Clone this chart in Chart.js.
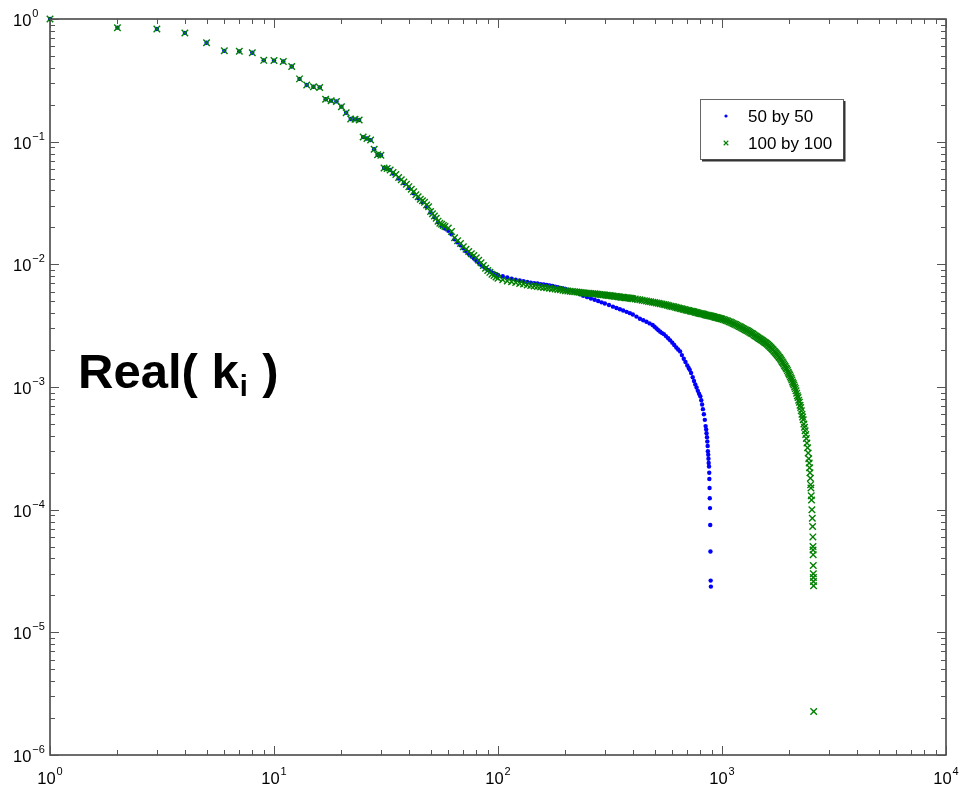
<!DOCTYPE html>
<html>
<head>
<meta charset="utf-8">
<script src="https://cdn.jsdelivr.net/npm/chart.js@4/dist/chart.umd.min.js"></script>
<style>
html,body{margin:0;padding:0;background:#fff;}
#c{display:block;}
</style>
</head>
<body>
<canvas id="c" width="961" height="789"></canvas>
<script>
// ---------- data ----------
const seriesNames = ['50 by 50', '100 by 100'];

// tick labels: base "10" with exponent
const xTickValues = [1, 10, 100, 1000, 10000];
const xTickExps = ['0', '1', '2', '3', '4'];
const yTickValues = [1, 0.1, 0.01, 0.001, 0.0001, 0.00001, 0.000001];
const yTickExps = ['0', '\u22121', '\u22122', '\u22123', '\u22124', '\u22125', '\u22126'];
const annotationText = ['Real( k', 'i', ' )'];

// 50 by 50 (blue dots)
const blueX = [1,2,3,4,5,6,7,8,9,10,11,12,13,14,15,16,17,18,19,20,21,22,23,24,25,26,27,28,29,30,31,32,33,
  34,36,38,40,42,44,46,48,50,52,54,56,58,60,62,64,66,68,70,72,74,76,78,80,82,84,86,88,90,92,94,96,98,
  100,105,110,115,120,125,130,135,140,145,150,155,160,165,170,175,180,185,190,195,200,208,216,224,232,240,250,260,270,280,290,300,313,326,338,350,362,375,388,400,415,430,445,460,475,490,500,510,520,530,540,550,562,575,587,600,612,625,637,650,662,675,687,700,710,718,728,740,750,760,770,780,790,800,808,815,822,830,838,845,850,853,857,860,863,865,868,870,872,875,877,878,880,882,884,886,888,890,892];
const blueY = [1.0,0.85,0.83,0.77,0.64,0.55,0.545,0.53,0.46,0.458,0.45,0.41,0.325,0.29,0.28,0.277,0.222,0.216,0.213,0.193,0.172,0.153,0.152,0.150,0.109,0.106,0.103,0.0867,0.0783,0.0775,0.061,0.0605,0.0588,
  0.055,0.050,0.046,0.042,0.038,0.0345,0.032,0.0295,0.0265,0.0242,0.022,0.0205,0.0196,0.0188,0.0176,0.016,0.0151,0.0143,0.0135,0.0128,0.0122,0.0117,0.0112,0.0107,0.0103,0.0099,0.0096,0.0093,0.0090,0.0088,0.0086,0.0084,0.0083,
  0.0082,0.0080,0.0078,0.00765,0.0075,0.0074,0.00728,0.0072,0.0071,0.00703,0.00697,0.0069,0.00685,0.0068,0.00673,0.00665,0.00658,0.0065,0.00643,0.00636,0.0063,0.00618,0.00605,0.0059,0.0057,0.00555,0.0054,0.00527,0.00515,0.00503,0.0049,0.0048,0.00466,0.00452,0.0044,0.0043,0.0042,0.0041,0.0040,0.0039,0.00375,0.0036,0.0035,0.0034,0.0033,0.0032,0.0031,0.0030,0.0029,0.00282,0.00275,0.0027,0.0026,0.0025,0.0024,0.0023,0.0022,0.0021,0.00202,0.00195,0.00182,0.0017,0.0016,0.0015,0.00143,0.00138,0.0013,0.0012,0.00112,0.00105,0.00099,0.00093,0.00088,0.00084,0.00078,0.00072,0.00066,0.0006,0.00054,0.00048,0.00045,0.00042,0.00039,0.00036,0.00033,0.0003,0.00028,0.00026,0.00024,0.000225,0.0002,0.000178,0.00015,0.000124,0.000103,0.000075,0.0000456,0.0000264,0.0000236];

// 100 by 100 (green crosses)
const greenX = [1,2,3,4,5,6,7,8,9,10,11,12,13,14,15,16,17,18,19,20,21,22,23,24,25,26,27,28,29,30,31,32,33,
  34,35,36,37,38,39,40,41,42,43,44,45,46,47,48,49,50,51,52,53,54,55,56,57,58,60,62,64,66,68,70,72,74,76,78,80,82,84,86,88,90,92,94,96,98,
  100,105,110,115,120,125,130,135,140,145,150,155,160,165,170,175,180,185,190,195,200,210,220,230,240,250,260,270,280,290,300,310,320,330,340,350,360,370,380,390,400,420,440,460,480,500,520,540,560,580,600,620,640,660,680,700,720,740,760,780,800,820,840,860,880,900,920,940,960,980,1000,
  1030,1060,1090,1120,1150,1180,1210,1240,1270,1300,1330,1360,1390,1420,1450,1480,1510,1540,1570,1600,1630,1660,1690,1720,1750,1780,1810,1840,1870,1900,1930,1960,1990,2020,2050,2080,2110,2140,2170,2200,2230,2260,2290,2320,2350,2380,2410,2440,2460,2480,2495,2510,2520,2530,2538,2545,2548,2550,2553,2555,2557,2559,2561,2563,2566,
  205,215,225,235,245,255,265,275,285,295,305,315,325,335,345,355,365,375,385,395,
  410,430,450,470,490,510,530,550,570,590,610,630,650,670,690,710,730,750,770,790,810,830,850,870,890,910,930,950,970,990,
  1015,1045,1075,1105,1135,1165,1195,1225,1255,1285,1315,1345,1375,1405,1435,1465,1495,1525,1555,1585,1615,1645,1675,1705,1735,1765,1795,1825,1855,1885,1915,1945,1975,2005,2035,2065,2095,2125,2155,2185,2215,2245,2275,2305,2335,2365,2395,2425,2450,2470,2488,2503];
const greenY = [1.0,0.85,0.83,0.77,0.64,0.55,0.545,0.53,0.46,0.458,0.45,0.41,0.325,0.29,0.28,0.277,0.222,0.216,0.213,0.193,0.172,0.153,0.152,0.150,0.109,0.106,0.103,0.0867,0.0783,0.0775,0.061,0.0605,0.0588,
  0.056,0.054,0.051,0.049,0.047,0.045,0.043,0.041,0.039,0.037,0.0355,0.034,0.033,0.032,0.0305,0.0295,0.027,0.0258,0.0248,0.0238,0.0225,0.0216,0.0212,0.0207,0.0203,0.0198,0.0185,0.0165,0.0156,0.0148,0.0139,0.0133,0.0127,0.0122,0.0118,0.0113,0.0108,0.0103,0.0098,0.0093,0.0089,0.0086,0.0083,0.0081,0.0079,
  0.0077,0.0075,0.0073,0.0072,0.0071,0.00698,0.0069,0.0068,0.00672,0.00665,0.0066,0.00654,0.00648,0.00643,0.00638,0.00633,0.00628,0.00624,0.0062,0.00615,0.0061,0.00604,0.00598,0.00592,0.00587,0.00582,0.00578,0.00575,0.0057,0.00566,0.00562,0.00558,0.00554,0.0055,0.00546,0.00542,0.00538,0.00535,0.00532,0.0053,0.00525,0.00517,0.0051,0.00502,0.00495,0.00488,0.00482,0.00475,0.00468,0.0046,0.00453,0.00447,0.0044,0.00434,0.00428,0.00422,0.00417,0.00412,0.00407,0.00402,0.00397,0.00393,0.00389,0.00385,0.00381,0.00377,0.00373,0.00369,0.00366,0.00362,0.00358,
  0.00351,0.00345,0.00338,0.0033,0.00323,0.00315,0.00308,0.0030,0.00293,0.00287,0.0028,0.00273,0.00266,0.00259,0.00252,0.00246,0.0024,0.00234,0.00228,0.00222,0.00215,0.00208,0.00201,0.00194,0.00187,0.0018,0.00173,0.00165,0.00158,0.0015,0.00143,0.00136,0.00128,0.00121,0.00114,0.00107,0.0010,0.00093,0.00085,0.00078,0.00071,0.00064,0.00057,0.0005,0.00044,0.00038,0.00032,0.00026,0.00022,0.00018,0.00015,0.00012,0.0001,0.000085,0.000073,0.00006,0.00005,0.000047,0.000043,0.000035,0.00003,0.000028,0.000026,0.000024,0.00000226,
  0.00607,0.00601,0.00595,0.0059,0.00585,0.0058,0.00576,0.00572,0.00568,0.00564,0.0056,0.00556,0.00552,0.00548,0.00544,0.0054,0.00536,0.00533,0.00531,0.00527,
  0.00521,0.00514,0.00506,0.00498,0.00491,0.00485,0.00478,0.00471,0.00464,0.00456,0.0045,0.00443,0.00437,0.00431,0.00425,0.0042,0.00414,0.0041,0.00404,0.0040,0.00395,0.00391,0.00387,0.00383,0.00379,0.00375,0.00371,0.00368,0.00364,0.0036,
  0.00355,0.00348,0.00341,0.00334,0.00326,0.00319,0.00311,0.00304,0.00297,0.0029,0.00283,0.00276,0.0027,0.00262,0.00256,0.00249,0.00243,0.00237,0.00231,0.00225,0.00218,0.00211,0.00204,0.00197,0.0019,0.00183,0.00176,0.00169,0.00161,0.00154,0.00147,0.0014,0.00132,0.00125,0.00118,0.0011,0.00104,0.00097,0.00089,0.00082,0.00075,0.00068,0.0006,0.00054,0.00047,0.00041,0.00035,0.00029,0.00024,0.0002,0.00016,0.00013];

// ---------- build chart ----------
const FONT = '"Liberation Sans", Arial, Helvetica, sans-serif';
const toPts = (xs, ys) => xs.map((x, i) => ({x: x, y: ys[i]}));

const blueStyle = {pointStyle: 'circle', pointRadius: 2.2, backgroundColor: '#0000ff', borderColor: '#0000ff', borderWidth: 0};
const greenStyle = {pointStyle: 'crossRot', pointRadius: 4.6, backgroundColor: '#008000', borderColor: '#008000', borderWidth: 1.4};

function minorValues(min, max) {
  const out = [];
  for (let e = Math.floor(Math.log10(min)); e < Math.ceil(Math.log10(max)); e++) {
    for (let m = 2; m <= 9; m++) out.push(m * Math.pow(10, e));
  }
  return out;
}

function powLabelWidth(ctx, exp) {
  ctx.font = '16.5px ' + FONT;
  const w1 = ctx.measureText('10').width;
  ctx.font = '11px ' + FONT;
  return w1 + 1 + ctx.measureText(exp).width;
}
function drawPowLabel(ctx, exp, x, baseline) {
  ctx.textAlign = 'left';
  ctx.textBaseline = 'alphabetic';
  ctx.font = '16.5px ' + FONT;
  ctx.fillText('10', x, baseline);
  const w1 = ctx.measureText('10').width;
  ctx.font = '11px ' + FONT;
  ctx.fillText(exp, x + w1 + 1, baseline - 9);
}

const framePlugin = {
  id: 'frame',
  afterDraw(chart) {
    const ctx = chart.ctx;
    const a = chart.chartArea;
    const xs = chart.scales.x, ys = chart.scales.y;
    ctx.save();
    // frame
    ctx.strokeStyle = '#3c3c3c';
    ctx.lineWidth = 1.5;
    ctx.strokeRect(a.left, a.top, a.right - a.left, a.bottom - a.top);
    // inward ticks on all four sides
    ctx.lineWidth = 1;
    ctx.strokeStyle = '#555';
    const MAJ = 9, MIN = 5;
    ctx.beginPath();
    xTickValues.forEach(v => {
      const p = Math.round(xs.getPixelForValue(v)) + 0.5;
      ctx.moveTo(p, a.bottom); ctx.lineTo(p, a.bottom - MAJ);
      ctx.moveTo(p, a.top); ctx.lineTo(p, a.top + MAJ);
    });
    minorValues(1, 10000).forEach(v => {
      const p = Math.round(xs.getPixelForValue(v)) + 0.5;
      ctx.moveTo(p, a.bottom); ctx.lineTo(p, a.bottom - MIN);
      ctx.moveTo(p, a.top); ctx.lineTo(p, a.top + MIN);
    });
    yTickValues.forEach(v => {
      const p = Math.round(ys.getPixelForValue(v)) + 0.5;
      ctx.moveTo(a.left, p); ctx.lineTo(a.left + MAJ, p);
      ctx.moveTo(a.right, p); ctx.lineTo(a.right - MAJ, p);
    });
    minorValues(1e-6, 1).forEach(v => {
      const p = Math.round(ys.getPixelForValue(v)) + 0.5;
      ctx.moveTo(a.left, p); ctx.lineTo(a.left + MIN, p);
      ctx.moveTo(a.right, p); ctx.lineTo(a.right - MIN, p);
    });
    ctx.stroke();

    // tick labels
    ctx.fillStyle = '#000';
    xTickValues.forEach((v, i) => {
      const p = xs.getPixelForValue(v);
      const w = powLabelWidth(ctx, xTickExps[i]);
      drawPowLabel(ctx, xTickExps[i], p - w / 2, 784);
    });
    yTickValues.forEach((v, i) => {
      const p = ys.getPixelForValue(v);
      drawPowLabel(ctx, yTickExps[i], 13, p + 7);
    });

    // legend box
    const lx = 700, ly = 99, lw = 143, lh = 60;
    ctx.fillStyle = '#fff';
    ctx.fillRect(lx, ly, lw, lh);
    ctx.strokeStyle = '#666';
    ctx.lineWidth = 1;
    ctx.strokeRect(lx + 0.5, ly + 0.5, lw, lh);
    ctx.strokeStyle = '#333';
    ctx.lineWidth = 2;
    ctx.beginPath();
    ctx.moveTo(lx + 2, ly + lh + 1.5); ctx.lineTo(lx + lw + 1.5, ly + lh + 1.5); ctx.lineTo(lx + lw + 1.5, ly + 2);
    ctx.stroke();

    const styles = [blueStyle, greenStyle];
    const rows = [116, 143];
    styles.forEach((s, i) => {
      ctx.save();
      ctx.fillStyle = s.backgroundColor;
      ctx.strokeStyle = s.borderColor;
      ctx.lineWidth = 1.1;
      if (s.pointStyle === 'circle') {
        ctx.beginPath(); ctx.arc(726, rows[i], 1.6, 0, Math.PI * 2); ctx.fill();
      } else if (Chart.helpers && Chart.helpers.drawPoint) {
        Chart.helpers.drawPoint(ctx, {pointStyle: s.pointStyle, radius: 3.2, rotation: 0, borderWidth: 1.1}, 726, rows[i]);
      } else {
        ctx.beginPath();
        ctx.moveTo(724, rows[i] - 2); ctx.lineTo(728, rows[i] + 2);
        ctx.moveTo(728, rows[i] - 2); ctx.lineTo(724, rows[i] + 2);
        ctx.stroke();
      }
      ctx.restore();
      ctx.fillStyle = '#000';
      ctx.font = '17px ' + FONT;
      ctx.textBaseline = 'middle';
      ctx.textAlign = 'left';
      ctx.fillText(seriesNames[i], 748, rows[i] + 1);
    });

    // annotation "Real( k_i )"
    ctx.fillStyle = '#000';
    ctx.textBaseline = 'alphabetic';
    ctx.textAlign = 'left';
    ctx.font = 'bold 49px ' + FONT;
    let tx = 78;
    const by = 388;
    ctx.fillText(annotationText[0], tx, by);
    tx += ctx.measureText(annotationText[0]).width;
    ctx.font = 'bold 29px ' + FONT;
    ctx.fillText(annotationText[1], tx + 1, by + 8);
    tx += ctx.measureText(annotationText[1]).width + 2;
    ctx.font = 'bold 49px ' + FONT;
    ctx.fillText(annotationText[2], tx, by);
    ctx.restore();
  }
};

const chart = new Chart(document.getElementById('c'), {
  type: 'scatter',
  data: {
    datasets: [
      Object.assign({label: seriesNames[0], data: toPts(blueX, blueY), order: 2, clip: 4}, blueStyle),
      Object.assign({label: seriesNames[1], data: toPts(greenX, greenY), order: 1, clip: 4}, greenStyle)
    ]
  },
  options: {
    responsive: false,
    animation: false,
    devicePixelRatio: 1,
    layout: {padding: {left: 13, right: 15, top: 19, bottom: 0}},
    plugins: {legend: {display: false}, tooltip: {enabled: false}},
    scales: {
      x: {
        type: 'logarithmic', min: 1, max: 10000,
        afterBuildTicks: s => { s.ticks = xTickValues.map(v => ({value: v})); },
        afterFit: s => { s.height = 34; },
        grid: {display: false, drawTicks: false},
        border: {display: false},
        ticks: {display: false}
      },
      y: {
        type: 'logarithmic', min: 0.000001, max: 1,
        afterBuildTicks: s => { s.ticks = yTickValues.slice().reverse().map(v => ({value: v})); },
        afterFit: s => { s.width = 37; },
        grid: {display: false, drawTicks: false},
        border: {display: false},
        ticks: {display: false}
      }
    }
  },
  plugins: [framePlugin]
});
</script>
</body>
</html>
